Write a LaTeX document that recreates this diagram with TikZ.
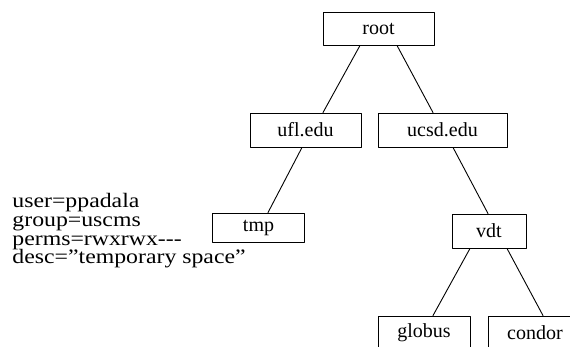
\documentclass[tikz,border=0pt]{standalone}
\usepackage{fontspec}
\setmainfont{Liberation Serif}
\newfontfamily\attrfont[FakeStretch=1.16]{Liberation Serif}
\begin{document}
\begin{tikzpicture}[x=1pt, y=-1pt, line cap=round, line join=round, font=\fontsize{20}{18.7}\selectfont, line width=0.9pt]
			\tikzset{dirbox/.style={draw, inner sep=0pt, minimum height=34pt}}
			\useasboundingbox (0,0) rectangle (570,346);
			\node[dirbox, minimum width=111pt, minimum height=33pt] (root) at (378.5,28.5) {root};
			\node[dirbox, minimum width=111pt] (ufl) at (305.5,130) {ufl.edu};
			\node[dirbox, minimum width=129pt] (ucsd) at (442.5,130) {ucsd.edu};
			\node[dirbox, minimum width=92pt, minimum height=29pt] (tmp) at (258.5,227.5) {tmp};
			\node[dirbox, minimum width=74pt] (vdt) at (489,231) {vdt};
			\node[dirbox, minimum width=92pt] (globus) at (424,333) {globus};
			\node[dirbox, minimum width=94pt] (condor) at (535,333) {condor};
			\node[anchor=west, align=left, inner sep=0pt, font=\attrfont\fontsize{20.5}{18.7}\selectfont] (attrs) at (12,231) {user=ppadala\\group=uscms\\perms=rwxrwx-{}-{}-\\desc=”temporary space”};
			\draw ([xshift=-18.5pt]root.south) -- ([xshift=17.5pt]ufl.north);
			\draw ([xshift=18.5pt]root.south) -- ([xshift=-9.5pt]ucsd.north);
			\draw ([xshift=-3.5pt]ufl.south) -- ([xshift=9.5pt]tmp.north);
			\draw ([xshift=10.5pt]ucsd.south) -- ([xshift=-1pt]vdt.north);
			\draw ([xshift=-19pt]vdt.south) -- ([xshift=9pt]globus.north);
			\draw ([xshift=18pt]vdt.south) -- ([xshift=8pt]condor.north);
		\end{tikzpicture}
\end{document}
